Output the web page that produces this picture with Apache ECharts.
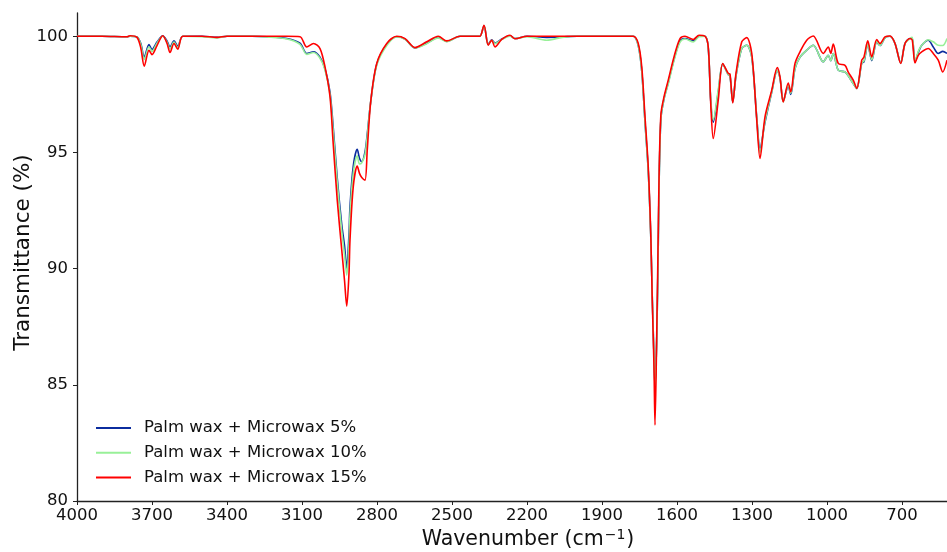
<!DOCTYPE html>
<html>
<head>
<meta charset="utf-8">
<script src="https://cdn.jsdelivr.net/npm/echarts@6/dist/echarts.min.js"></script>
<style>
  html, body { margin: 0; padding: 0; background: #fff; }
  #ftir { width: 947px; height: 552px; }
</style>
</head>
<body>
<div id="ftir"></div>
<script>
  // FTIR 光谱数据
  var seriesNames = ['Palm wax + Microwax 5%', 'Palm wax + Microwax 10%', 'Palm wax + Microwax 15%']
  var xTicks = [4000, 3700, 3400, 3100, 2800, 2500, 2200, 1900, 1600, 1300, 1000, 700]
  var yTicks = [80, 85, 90, 95, 100]

  var wavenumber = [
    4000, 3900, 3800, 3788, 3760, 3745, 3731, 3712, 3700, 3680, 3657, 3640, 3628, 3612, 3597, 3577,
    3500, 3440, 3400, 3300, 3240, 3160, 3108, 3081, 3054, 3028, 3008, 2988, 2976, 2959, 2941, 2930,
    2921, 2912, 2908, 2895, 2879, 2870, 2861, 2848, 2839, 2825, 2801, 2761, 2721, 2688, 2648, 2601,
    2555, 2521, 2468, 2400, 2388, 2372, 2355, 2341, 2328, 2301, 2268, 2248, 2200, 2121, 2060, 2000,
    1900, 1775, 1755, 1741, 1728, 1715, 1705, 1699, 1692, 1688, 1681, 1675, 1671, 1664, 1652, 1635,
    1612, 1588, 1568, 1535, 1512, 1488, 1475, 1465, 1455, 1435, 1417, 1395, 1388, 1377, 1364, 1341,
    1321, 1301, 1281, 1268, 1248, 1221, 1199, 1188, 1175, 1155, 1145, 1128, 1108, 1081, 1055, 1015,
    995, 985, 975, 955, 928, 915, 895, 881, 861, 852, 837, 821, 801, 788, 768, 748,
    728, 705, 688, 668, 659, 648, 635, 621, 595, 575, 555, 537, 520
  ]

  var wax5 = [
    100, 100, 99.98, 100, 99.97, 99.7, 99.11, 99.64, 99.43, 99.75, 100.02, 99.8, 99.54, 99.8, 99.57, 100,
    100, 99.95, 100, 100, 99.98, 99.9, 99.7, 99.26, 99.33, 99.1, 98.6, 97.6, 96.2, 93.9, 91.9, 91.0,
    90.01, 91.5, 92.66, 94.4, 95.13, 94.75, 94.6, 95.02, 95.8, 97.2, 98.8, 99.65, 99.98, 99.88, 99.5, 99.7,
    99.95, 99.78, 100, 100, 100, 100.45, 99.65, 99.85, 99.71, 99.88, 100.02, 99.9, 100, 99.95, 99.97, 100,
    100, 100, 99.6, 98.5, 96.3, 94.2, 91.4, 88.8, 86.2, 84.92, 87.0, 91.0, 94.0, 96.5, 97.3, 98.0,
    99.0, 99.8, 99.9, 99.8, 100, 100, 99.5, 97.2, 96.3, 97.6, 98.8, 98.35, 98.3, 97.17, 98.3, 99.47,
    99.61, 99.11, 96.5, 95.17, 96.3, 97.6, 98.53, 98.2, 97.2, 97.85, 97.5, 98.61, 99.1, 99.4, 99.61, 98.9,
    99.18, 98.95, 99.26, 98.54, 98.46, 98.3, 97.96, 97.75, 98.85, 98.9, 99.65, 98.95, 99.75, 99.6, 99.93, 100,
    99.69, 98.85, 99.69, 99.9, 99.9, 98.9, 99.3, 99.61, 99.83, 99.54, 99.26, 99.35, 99.26
  ]

  var wax10 = [
    100, 100, 99.98, 100, 99.97, 99.65, 99.0, 99.55, 99.35, 99.7, 100, 99.75, 99.45, 99.75, 99.5, 100,
    99.98, 99.93, 100, 100, 99.97, 99.88, 99.65, 99.22, 99.3, 99.05, 98.55, 97.5, 96.0, 93.7, 91.6, 90.6,
    89.72, 91.0, 92.3, 94.1, 94.85, 94.5, 94.55, 94.9, 95.7, 97.2, 98.75, 99.6, 99.97, 99.87, 99.5, 99.68,
    99.93, 99.77, 100, 100, 100, 100.45, 99.63, 99.83, 99.68, 99.86, 100, 99.9, 99.98, 99.83, 99.95, 100,
    100, 100, 99.6, 98.5, 96.3, 94.2, 91.4, 88.8, 86.2, 84.85, 87.0, 91.0, 94.0, 96.5, 97.3, 97.95,
    98.95, 99.75, 99.88, 99.75, 99.98, 100, 99.5, 97.3, 96.4, 97.7, 98.8, 98.35, 98.3, 97.17, 98.3, 99.47,
    99.61, 99.11, 96.5, 95.0, 96.35, 97.6, 98.53, 98.2, 97.17, 97.9, 97.55, 98.61, 99.1, 99.4, 99.61, 98.9,
    99.18, 98.95, 99.26, 98.54, 98.46, 98.3, 97.96, 97.75, 98.85, 98.95, 99.65, 98.98, 99.78, 99.6, 99.93, 100,
    99.69, 98.85, 99.69, 99.9, 99.95, 98.9, 99.35, 99.61, 99.85, 99.76, 99.61, 99.6, 99.9
  ]

  var wax15 = [
    100, 100, 99.98, 100.02, 99.95, 99.5, 98.71, 99.4, 99.21, 99.6, 100.02, 99.7, 99.3, 99.69, 99.44, 100,
    100, 99.95, 100, 100, 100, 100, 99.98, 99.54, 99.69, 99.47, 98.68, 97.4, 95.5, 92.95, 90.8, 89.5,
    88.39, 89.8, 91.23, 93.52, 94.41, 94.1, 93.92, 93.81, 95.1, 97.2, 98.83, 99.69, 100, 99.9, 99.51, 99.76,
    100, 99.8, 100, 100, 100, 100.47, 99.61, 99.83, 99.54, 99.86, 100.04, 99.89, 100, 100, 100, 100,
    100, 100, 99.69, 98.68, 96.53, 94.38, 91.52, 88.65, 85.78, 83.27, 87.22, 91.52, 94.38, 96.67, 97.39, 98.11,
    99.11, 99.9, 100, 99.86, 100.04, 100, 99.54, 97.1, 95.6, 97.25, 98.83, 98.4, 98.37, 97.13, 98.4, 99.76,
    99.94, 99.26, 96.39, 94.74, 96.53, 97.68, 98.65, 98.25, 97.17, 97.99, 97.61, 98.83, 99.33, 99.83, 100.01, 99.26,
    99.54, 99.26, 99.66, 98.83, 98.75, 98.46, 98.11, 97.75, 98.97, 99.11, 99.8, 99.11, 99.86, 99.69, 99.97, 100.01,
    99.69, 98.83, 99.69, 99.9, 99.83, 98.85, 99.18, 99.33, 99.47, 99.26, 98.97, 98.46, 98.97
  ]

  var colors = ['#0b2c9e', '#98f098', '#ff0000']
  var font = 'DejaVu Sans'

  function pairs(ys) {
    return wavenumber.map(function (w, i) { return [w, ys[i]] })
  }

  var chart = echarts.init(document.getElementById('ftir'))
  var option = {
    animation: false,
    color: colors,
    grid: { left: 77, right: 0, top: 13, bottom: 51, containLabel: false, outerBoundsMode: 'none' },
    legend: {
      orient: 'vertical',
      left: 91,
      top: 414,
      icon: 'rect',
      itemWidth: 35,
      itemHeight: 2,
      itemGap: 6.8,
      data: seriesNames,
      textStyle: {
        fontFamily: font,
        fontSize: 16.5,
        color: '#111',
        lineHeight: 18,
        padding: [0, 0, 0, 8]
      }
    },
    xAxis: {
      type: 'value',
      min: 520,
      max: 4000,
      inverse: true,
      name: '{a|Wavenumber (cm}{s|−1}{a|)}',
      nameLocation: 'middle',
      nameGap: 27,
      nameMoveOverlap: false,
      nameTextStyle: {
        padding: [0, 0, 0, 32],
        rich: {
          a: { fontFamily: font, fontSize: 20.5, color: '#111', verticalAlign: 'bottom' },
          s: { fontFamily: font, fontSize: 14, color: '#111', verticalAlign: 'bottom', padding: [0, 1, 8, 1] }
        }
      },
      splitLine: { show: false },
      axisLine: { lineStyle: { color: '#222', width: 1.3 } },
      axisTick: { length: 4, customValues: xTicks, lineStyle: { color: '#222' } },
      axisLabel: {
        customValues: xTicks,
        margin: 6,
        fontFamily: font,
        fontSize: 16.5,
        color: '#111',
        formatter: function (v) { return String(v) }
      }
    },
    yAxis: {
      type: 'value',
      min: 80,
      max: 101,
      name: 'Transmittance (%)',
      nameLocation: 'middle',
      nameGap: 43,
      nameMoveOverlap: false,
      nameTextStyle: { fontFamily: font, fontSize: 21.5, color: '#111', padding: [0, 0, 0, 9] },
      splitLine: { show: false },
      axisLine: { show: true, lineStyle: { color: '#222', width: 1.3 } },
      axisTick: { show: true, length: 4, customValues: yTicks, lineStyle: { color: '#222' } },
      axisLabel: {
        customValues: yTicks,
        margin: 9,
        fontFamily: font,
        fontSize: 16.5,
        color: '#111',
        formatter: function (v) { return String(v) }
      }
    },
    series: seriesNames.map(function (name, i) {
      return {
        name: name,
        type: 'line',
        showSymbol: false,
        symbol: 'none',
        smooth: 0.3,
        lineStyle: { width: 1.6, color: colors[i] },
        data: pairs([wax5, wax10, wax15][i])
      }
    })
  }
  chart.setOption(option)
</script>
</body>
</html>
